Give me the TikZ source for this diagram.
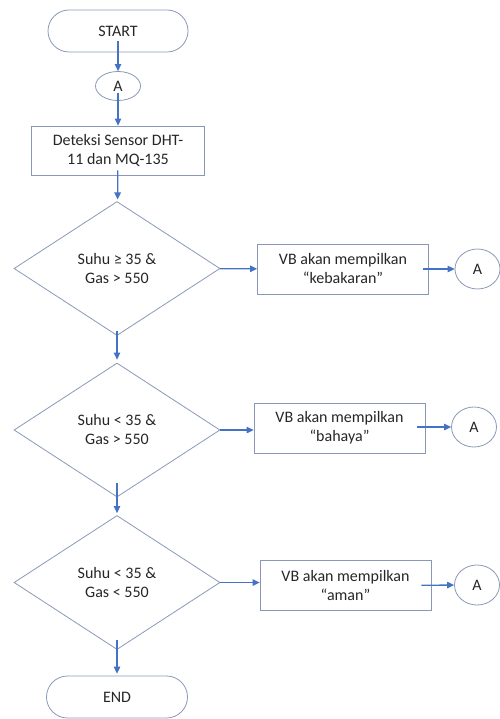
\documentclass[tikz,border=0pt]{standalone}
\usepackage{fontspec}
\setmainfont{Carlito}
\usetikzlibrary{shapes.geometric,arrows.meta}
\definecolor{shapeline}{HTML}{8A98B8}
\definecolor{flowblue}{HTML}{4472C4}
\definecolor{textgray}{HTML}{262626}

\begin{document}
\begin{tikzpicture}[x=1pt,y=-1pt,
    every node/.style={font=\fontsize{16}{19}\selectfont, text=textgray, align=center, line width=0.8pt},
    terminal/.style={draw=shapeline, rectangle, rounded corners=21pt, minimum width=140pt, minimum height=42pt},
    onpage/.style={draw=shapeline, ellipse, inner sep=0pt, minimum width=45pt, minimum height=40pt},
    process/.style={draw=shapeline, rectangle, minimum width=171pt, minimum height=50pt},
    decision/.style={draw=shapeline, diamond, inner sep=0pt, minimum width=206pt, minimum height=134pt},
    flow/.style={draw=flowblue, line width=1.3pt, -{Triangle[length=7pt,width=6.5pt]}}]
    \useasboundingbox (0,0) rectangle (499,719);
    % main column
    \node [terminal] (start) at (118,31) {START};
    \node [onpage, minimum height=29pt] (a0) at (118,86) {A};
    \node [process, minimum width=173pt, minimum height=49pt] (detect) at (118,150.5) {Deteksi Sensor DHT-\\11 dan MQ-135};
    \node [decision] (cond1) at (117,268.5) {Suhu ≥ 35 \&\\Gas > 550};
    \node [decision] (cond2) at (117,430) {Suhu < 35 \&\\Gas > 550};
    \node [decision] (cond3) at (117,582.5) {Suhu < 35 \&\\Gas < 550};
    \node [terminal, minimum width=141pt] (end) at (117,697) {END};
    % outputs
    \node [process] (out1) at (343,269) {VB akan mempilkan\\“kebakaran”};
    \node [process] (out2) at (339.5,428) {VB akan mempilkan\\“bahaya”};
    \node [process] (out3) at (345.5,585.5) {VB akan mempilkan\\“aman”};
    \node [onpage] (a1) at (477.5,269) {A};
    \node [onpage] (a2) at (474,427) {A};
    \node [onpage] (a3) at (477,585) {A};
    % arrows
    \draw [flow, shorten <=-11pt] (start) -- (a0);
    \draw [flow, shorten <=-8pt] (a0) -- (detect);
    \draw [flow, shorten <=-5pt, shorten >=2pt] (detect) -- (cond1);
    \draw [flow, shorten <=-5pt, shorten >=3pt] (cond1) -- (cond2);
    \draw [flow, shorten <=-14pt, shorten >=2pt] (cond2) -- (cond3);
    \draw [flow, shorten <=-10pt, shorten >=2pt] (cond3) -- (end);
    \draw [flow] (cond1) -- (out1);
    \draw [flow] (cond2.east) -- (cond2.east -| out2.west);
    \draw [flow] (cond3.east) -- (cond3.east -| out3.west);
    \draw [flow, shorten <=-6pt] (out1) -- (a1);
    \draw [flow, shorten <=-8pt] (out2.east |- a2) -- (a2);
    \draw [flow, shorten <=-10pt] (out3) -- (a3);
\end{tikzpicture}
\end{document}
